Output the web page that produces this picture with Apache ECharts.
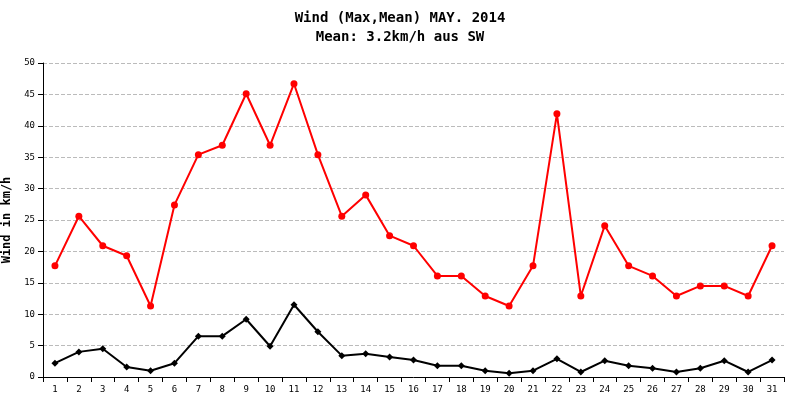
<!DOCTYPE html>
<html><head><meta charset="utf-8">
<script src="https://cdn.jsdelivr.net/npm/echarts@6/dist/echarts.min.js"></script>
<style>html,body{margin:0;padding:0;background:#fff}#c{width:800px;height:400px}</style>
</head><body><div id="c"></div>
<script>
const days = Array.from({length:31},(_,i)=>String(i+1));
const maxWind = [17.7,25.6,20.9,19.3,11.3,27.4,35.4,36.9,45.1,36.9,46.7,35.4,25.6,29.0,22.5,20.9,16.1,16.1,12.9,11.3,17.7,41.9,12.9,24.1,17.7,16.1,12.9,14.5,14.5,12.9,20.9];
const meanWind = [2.2,4.0,4.5,1.6,1.0,2.2,6.5,6.5,9.2,4.9,11.5,7.2,3.4,3.7,3.2,2.7,1.8,1.8,1.0,0.6,1.0,2.9,0.8,2.6,1.8,1.4,0.8,1.4,2.6,0.8,2.7];
const chart = echarts.init(document.getElementById('c'));
const mono = 'DejaVu Sans Mono';
chart.setOption({
  animation:false,
  title:{text:'Wind (Max,Mean) MAY. 2014\nMean: 3.2km/h aus SW',left:'center',top:4,
    textStyle:{fontFamily:mono,fontSize:14,fontWeight:'bold',color:'#000',lineHeight:19}},
  grid:{left:43,right:16,top:63,bottom:23,containLabel:false,outerBoundsMode:'none'},
  xAxis:{type:'category',data:days,boundaryGap:true,
    axisLine:{lineStyle:{color:'#000'}},axisTick:{show:true,lineStyle:{color:'#000'}},
    axisLabel:{fontFamily:mono,fontSize:9,color:'#000'}},
  yAxis:{type:'value',min:0,max:50,interval:5,name:'Wind in km/h',nameLocation:'middle',nameGap:30,
    nameTextStyle:{fontFamily:mono,fontSize:12,fontWeight:'bold',color:'#000'},
    axisLine:{show:true,lineStyle:{color:'#000'}},axisTick:{show:true},
    axisLabel:{fontFamily:mono,fontSize:9,color:'#000'},
    splitLine:{lineStyle:{color:'#bbb',type:'dashed'}}},
  series:[
    {type:'line',data:maxWind,color:'#ff0000',symbol:'circle',symbolSize:7,lineStyle:{width:2}},
    {type:'line',data:meanWind,color:'#000',symbol:'diamond',symbolSize:7,lineStyle:{width:2}}
  ]
});
</script></body></html>
